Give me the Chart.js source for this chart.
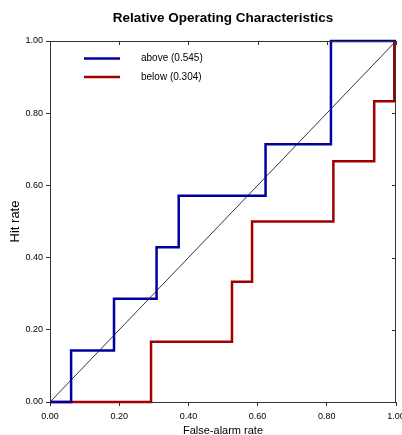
<!DOCTYPE html>
<html>
<head>
    <title>Relative Operating Characteristics</title>
    <script src="https://cdn.jsdelivr.net/npm/chart.js"></script>
    <style>
        html, body { margin: 0; padding: 0; background: #fff; }
        #wrap { width: 402px; height: 435px; }
    </style>
</head>
<body>
    <div id="wrap"><canvas id="rocChart" width="402" height="435"></canvas></div>

    <script>
        // ROC data
        const falseAlarmAbove = [0, 0.061, 0.185, 0.308, 0.372, 0.623, 0.812, 1];
        const hitAbove        = [0, 0.143, 0.286, 0.429, 0.571, 0.714, 1, 1];
        const falseAlarmBelow = [0, 0.292, 0.526, 0.584, 0.819, 0.937, 0.995];
        const hitBelow        = [0, 0.167, 0.333, 0.5, 0.667, 0.833, 1];
        const seriesLabels = ['above (0.545)', 'below (0.304)'];
        const axisTicks = [0, 0.2, 0.4, 0.6, 0.8, 1];

        const toPoints = (xs, ys) => xs.map((x, i) => ({ x: x, y: ys[i] }));

        const FONT = "'Liberation Sans', Arial, sans-serif";
        const AXIS = '#333';

        // top/right frame with inward ticks, plus the legend box inside the plot
        const framePlugin = {
            id: 'frame',
            afterDatasetsDraw(chart) {
                const { ctx, chartArea: a, scales } = chart;
                ctx.save();
                ctx.strokeStyle = AXIS;
                ctx.lineWidth = 1;
                ctx.beginPath();
                ctx.moveTo(a.left, a.top + 0.5);
                ctx.lineTo(a.right, a.top + 0.5);
                ctx.moveTo(a.right - 0.5, a.top);
                ctx.lineTo(a.right - 0.5, a.bottom);
                axisTicks.forEach(v => {
                    const px = Math.round(scales.x.getPixelForValue(v)) + 0.5;
                    ctx.moveTo(px, a.top);
                    ctx.lineTo(px, a.top + 4);
                    const py = Math.round(scales.y.getPixelForValue(v)) + 0.5;
                    ctx.moveTo(a.right, py);
                    ctx.lineTo(a.right - 4, py);
                });
                ctx.stroke();

                // legend
                const rows = [58.5, 77];
                chart.data.datasets.slice(0, 2).forEach((ds, i) => {
                    ctx.strokeStyle = ds.borderColor;
                    ctx.lineWidth = 2.5;
                    ctx.beginPath();
                    ctx.moveTo(84, rows[i]);
                    ctx.lineTo(120, rows[i]);
                    ctx.stroke();
                    ctx.fillStyle = '#000';
                    ctx.font = '10px ' + FONT;
                    ctx.textBaseline = 'middle';
                    ctx.fillText(ds.label, 141, rows[i]);
                });
                ctx.restore();
            }
        };

        const ctx = document.getElementById('rocChart').getContext('2d');
        new Chart(ctx, {
            type: 'line',
            data: {
                datasets: [{
                    label: seriesLabels[0],
                    data: toPoints(falseAlarmAbove, hitAbove),
                    borderColor: '#0000a0',
                    borderWidth: 2.5,
                    stepped: true,
                    pointRadius: 0,
                    clip: false
                }, {
                    label: seriesLabels[1],
                    data: toPoints(falseAlarmBelow, hitBelow),
                    borderColor: '#a00000',
                    borderWidth: 2.5,
                    stepped: true,
                    pointRadius: 0,
                    clip: false
                }, {
                    label: 'diagonal',
                    data: toPoints([0, 1], [0, 1]),
                    borderColor: '#000',
                    borderWidth: 0.8,
                    pointRadius: 0
                }]
            },
            options: {
                responsive: false,
                animation: false,
                layout: { padding: { left: 0, right: 6, top: 0, bottom: 0 } },
                plugins: {
                    legend: { display: false },
                    tooltip: { enabled: false },
                    title: {
                        display: true,
                        fullSize: false,
                        text: 'Relative Operating Characteristics',
                        color: '#000',
                        font: { family: FONT, size: 13.5, weight: 'bold', lineHeight: 1.2 },
                        padding: { top: 10, bottom: 14.8 }
                    }
                },
                scales: {
                    x: {
                        type: 'linear',
                        min: 0,
                        max: 1,
                        afterBuildTicks: s => { s.ticks = axisTicks.map(v => ({ value: v })); },
                        afterFit: s => { s.height = 33; s.paddingLeft = 0; s.paddingRight = 0; },
                        ticks: {
                            callback: v => v.toFixed(2),
                            color: '#000',
                            font: { family: FONT, size: 9 },
                            padding: 5,
                            maxRotation: 0
                        },
                        grid: { drawOnChartArea: false, tickLength: 4, color: AXIS },
                        border: { color: AXIS },
                        title: {
                            display: true,
                            text: 'False-alarm rate',
                            color: '#000',
                            font: { family: FONT, size: 11, lineHeight: 1 },
                            padding: { top: 2, bottom: -1 }
                        }
                    },
                    y: {
                        type: 'linear',
                        min: 0,
                        max: 1,
                        afterBuildTicks: s => { s.ticks = axisTicks.map(v => ({ value: v })); },
                        afterFit: s => { s.width = 50; s.paddingTop = 0; s.paddingBottom = 0; },
                        ticks: {
                            callback: v => v.toFixed(2),
                            color: '#000',
                            font: { family: FONT, size: 9 },
                            padding: 3
                        },
                        grid: { drawOnChartArea: false, tickLength: 4, color: AXIS },
                        border: { color: AXIS },
                        title: {
                            display: true,
                            text: 'Hit rate',
                            color: '#000',
                            font: { family: FONT, size: 13 },
                            padding: { top: 8, bottom: 0 }
                        }
                    }
                }
            },
            plugins: [framePlugin]
        });
    </script>
</body>
</html>
